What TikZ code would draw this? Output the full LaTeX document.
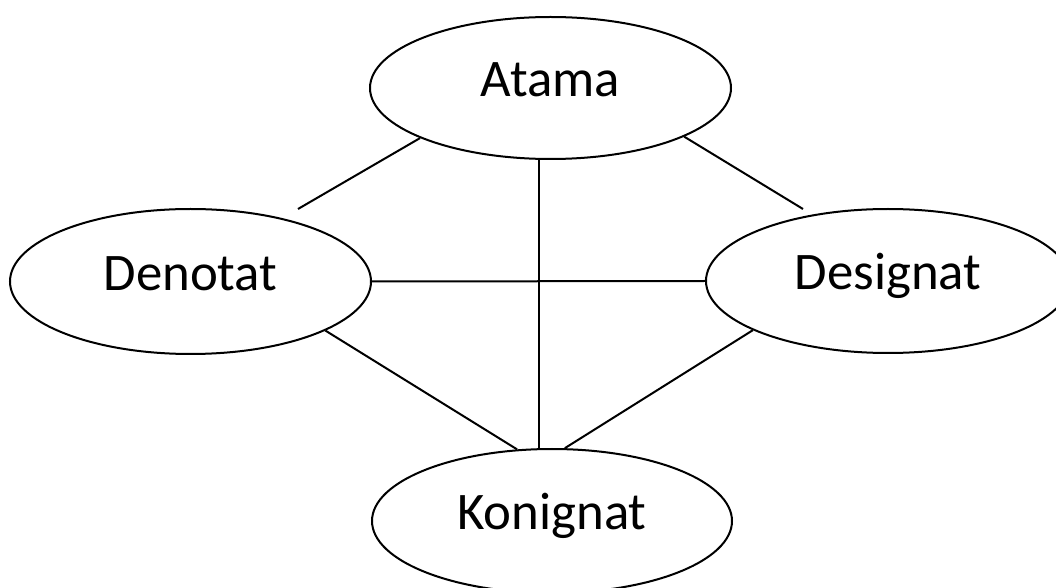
\documentclass[tikz,border=0pt]{standalone}
\usepackage{fontspec}
\setmainfont{Carlito}
\usepackage{xcolor}
\usetikzlibrary{shapes.geometric}
\definecolor{termbg}{named}{white}
\definecolor{termfg}{named}{black}
\newcommand{\termfont}{\fontsize{26.4}{30}\selectfont}
\tikzset{
	term/.style={ellipse,draw=termfg,fill=termbg,line width=1pt,inner sep=0pt,
		text height=20pt,text depth=11pt,font=\termfont},
	link/.style={draw=termfg,line width=1pt}
}
\begin{document}
\begin{tikzpicture}[x=0.5pt,y=-0.5pt]

\useasboundingbox (0, 0) rectangle (1056, 588);

% the four terms
\node [term,minimum width=180.5pt,minimum height=71pt] (atama) at (550.5, 88) {Atama};
\node [term,minimum width=180.5pt,minimum height=72.5pt] (denotat) at (190.5, 281.5) {Denotat};
\node [term,minimum width=182pt,minimum height=72pt] (designat) at (888, 281) {Designat};
\node [term,minimum width=180pt,minimum height=72pt] (konignat) at (552, 521) {Konignat};

% free ends of the upper lines
\coordinate (dentop) at (298, 209);
\coordinate (destop) at (803, 209);

% connections
\draw [link] (atama.201) -- (dentop);
\draw [link] (atama.340) -- (destop);
\draw [link] (atama.261) -- (atama.261 |- konignat.north);
\draw [link] (denotat.east) -- (designat.west);
\draw [link] (denotat.340) -- (konignat.116.6);
\draw [link] (designat.200) -- (konignat.80.5);

\end{tikzpicture}
\end{document}
